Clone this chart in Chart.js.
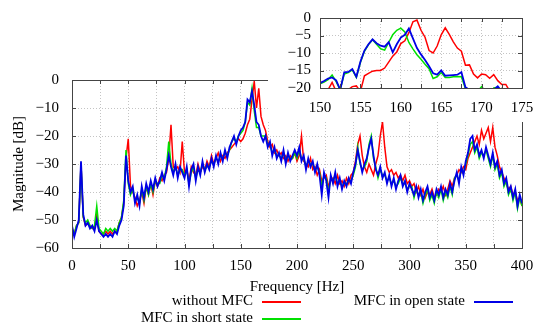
<!DOCTYPE html>
<html>
<head>
<meta charset="utf-8">
<script src="https://cdn.jsdelivr.net/npm/chart.js@4.4.0/dist/chart.umd.min.js"></script>
<style>
html, body { margin: 0; padding: 0; background: #fff; }
#wrap { position: relative; width: 550px; height: 329px; font-family: 'Liberation Serif', serif; }
#main { position: absolute; left: 0; top: 0; }
#inset { position: absolute; left: 268px; top: 0; background: #fff; }
.leg { position: absolute; font-size: 15px; line-height: 16px; color: #000; text-align: right; white-space: nowrap; }
.leg .ln { display: inline-block; width: 39px; height: 0; border-top: 2px solid; vertical-align: middle; margin-left: 9px; }
</style>
</head>
<body>
<div id="wrap">
  <canvas id="main" width="550" height="329"></canvas>
  <canvas id="inset" width="282" height="122"></canvas>
  <div class="leg" style="left:0; width:301px; top:292px;">without MFC<span class="ln" style="border-color:#ff0000"></span></div>
  <div class="leg" style="left:0; width:301px; top:309px;">MFC in short state<span class="ln" style="border-color:#00e000"></span></div>
  <div class="leg" style="left:0; width:513px; top:292px;">MFC in open state<span class="ln" style="border-color:#0000e6"></span></div>
</div>
<script>
// Frequências (Hz) - grade do gráfico principal, passo 2 Hz
var freqMain = [];
for (var f = 0; f <= 400; f += 2) freqMain.push(f);

// Magnitudes (dB)
var withoutMfc = [
  -54,-55,-52,-51,-30,-49,-52,-51,-52,-53,-53,-48,-54,-55,-55,-54,-55,-54,-55,-54,
  -54,-51,-49,-44,-28,-21,-38,-40,-42,-45,-43,-40,-44,-38,-41,-37,-41,-36,-38,-35,
  -36,-34,-33,-28,-16,-31,-32,-31,-33,-22,-33,-32,-36,-31,-33,-34,-30,-33,-31,-32,
  -29,-31,-27,-30,-28,-26,-29,-27,-28,-26,-25,-24,-23,-22,-21,-22,-21,-19,-16,-14,
  -7,-0.5,-10,-3,-13,-16,-18,-22,-24,-23,-26,-25,-27,-26,-28,-27,-29,-27,-28,-26,
  -29,-27,-20,-29,-30,-31,-28,-32,-31,-34,-32,-36,-35,-34,-38,-36,-35,-37,-34,-37,
  -36,-38,-35,-37,-34,-33,-29,-23,-20,-27,-31,-33,-30,-32,-34,-30,-27,-20,-15,-24,
  -31,-33,-32,-34,-33,-35,-34,-36,-34,-37,-36,-38,-37,-40,-38,-41,-39,-42,-40,-41,
  -39,-42,-41,-39,-40,-38,-41,-39,-36,-38,-35,-34,-32,-33,-31,-32,-28,-26,-24,-22,
  -20,-23,-18,-21,-19,-17,-22,-17,-24,-27,-31,-33,-35,-37,-39,-38,-41,-40,-43,-42,
  -45
];
var shortState = [
  -53,-55,-52,-51,-30,-49,-51,-50,-52,-53,-52,-45,-53,-54,-55,-53,-54,-53,-54,-53,
  -54,-51,-49,-43,-25,-37,-41,-39,-43,-42,-44,-39,-43,-38,-41,-37,-40,-36,-37,-37,
  -34,-35,-31,-22,-30,-33,-31,-34,-32,-32,-34,-32,-37,-33,-31,-35,-32,-33,-30,-32,
  -31,-31,-29,-30,-28,-29,-27,-28,-26,-27,-25,-22,-21,-22,-20,-19,-18,-15,-8,-9,
  -3,-11,-17,-17,-20,-20,-20,-23,-23,-26,-25,-27,-27,-28,-26,-29,-27,-28,-28,-26,
  -28,-25,-28,-28,-31,-29,-30,-30,-32,-31,-33,-38,-34,-35,-40,-35,-36,-34,-37,-36,
  -38,-37,-37,-36,-36,-34,-31,-24,-30,-32,-31,-29,-23,-20,-28,-31,-35,-32,-34,-34,
  -36,-35,-37,-36,-38,-37,-35,-37,-37,-39,-38,-38,-42,-39,-41,-40,-44,-41,-39,-43,
  -41,-44,-40,-42,-39,-43,-40,-42,-38,-41,-35,-34,-36,-32,-33,-30,-27,-23,-22,-26,
  -24,-28,-26,-27,-25,-28,-31,-27,-32,-30,-35,-33,-38,-36,-41,-39,-43,-40,-46,-42,
  -45
];
var openState = [
  -52,-56,-53,-50,-29,-48,-52,-51,-53,-52,-54,-50,-54,-55,-56,-55,-56,-55,-56,-54,
  -55,-52,-50,-45,-27,-36,-40,-38,-44,-41,-45,-38,-42,-37,-40,-36,-39,-35,-38,-36,
  -33,-36,-32,-27,-31,-34,-30,-35,-31,-33,-35,-31,-38,-32,-30,-36,-31,-34,-29,-33,
  -30,-32,-28,-31,-27,-30,-26,-29,-25,-28,-24,-22,-20,-23,-20,-18,-17,-15,-7,-8,
  -4,-9,-15,-16,-20,-22,-20,-24,-22,-27,-24,-28,-26,-29,-25,-30,-26,-29,-27,-25,
  -27,-24,-29,-27,-32,-28,-31,-29,-33,-30,-34,-41,-33,-36,-42,-34,-37,-33,-38,-35,
  -39,-36,-38,-35,-37,-33,-30,-25,-29,-33,-30,-28,-24,-21,-27,-32,-34,-31,-35,-33,
  -37,-34,-38,-35,-39,-36,-34,-38,-36,-40,-37,-39,-41,-38,-42,-39,-43,-40,-38,-42,
  -40,-43,-39,-41,-38,-42,-39,-41,-37,-40,-36,-33,-37,-31,-34,-29,-26,-21,-20,-25,
  -23,-27,-25,-28,-24,-27,-30,-26,-31,-29,-34,-32,-37,-35,-40,-38,-42,-39,-45,-41,
  -44
];

// Detalhe 150-175 Hz, passo 0.5 Hz
var freqInset = [];
for (var g = 150; g <= 175; g += 0.5) freqInset.push(g);

var insetWithout = [
  -22,-21.5,-20.5,-18.4,-21,-22,-21.5,-20.5,-19.6,-19.4,-21,-16.5,-15.8,-15.2,-15,-15,
  -14.3,-12.6,-10.9,-9.7,-7.3,-6.5,-4.2,-1.1,-0.6,-3.5,-5.5,-9.3,-10,-8,-4.8,-2.8,
  -4.7,-6.8,-8.6,-9.5,-13.5,-13.4,-16,-17.1,-16,-16.2,-17.2,-16.2,-17.9,-19,-19,-21,
  -22,-23,-24
];
var insetShort = [
  -18.8,-18.3,-17.6,-16.3,-18.2,-20.5,-16,-15.6,-14.8,-17,-12.7,-9.5,-7.6,-6.2,-7.5,-8.8,
  -9.2,-7,-4.8,-3.5,-2.9,-4,-7,-8.8,-10.5,-11.8,-13.2,-14.5,-17.3,-16.8,-15.6,-17,
  -17,-16.8,-16.7,-16.8,-20.2,-21,-21.5,-21,-19.6,-21,-22,-20,-19.8,-21.5,-22,-23,
  -23,-24,-24
];
var insetOpen = [
  -18.6,-18,-17.3,-17,-17.8,-20.5,-15.5,-15.4,-14.6,-16.8,-12.5,-9.3,-7.5,-6.1,-7.2,-7.9,
  -8.2,-6.9,-9.8,-7.5,-5.6,-4.8,-3,-5.8,-8.6,-10.4,-12,-13.8,-15.8,-16.2,-15,-16.5,
  -16.4,-16.3,-16.2,-15.5,-19.8,-20.5,-21,-22,-21,-20.8,-22,-20.5,-19.5,-21,-23,-23,
  -24,-24,-24
];

var fonte = { family: "'Liberation Serif', serif", size: 15 };

function pontos(xs, ys) {
  return xs.map(function (x, i) { return { x: x, y: ys[i] }; });
}

function serie(label, xs, ys, cor, largura, ordem) {
  return {
    label: label,
    data: pontos(xs, ys),
    borderColor: cor,
    borderWidth: largura,
    pointRadius: 0,
    tension: 0,
    fill: false,
    order: ordem
  };
}

// sinal de menos tipográfico nos rótulos
function menos(v) { return String(v).replace('-', '\u2212'); }

// Moldura com marcas de escala para dentro (estilo gnuplot)
var moldura = {
  id: 'moldura',
  afterDraw: function (chart) {
    var ctx = chart.ctx, a = chart.chartArea;
    var sx = chart.scales.x, sy = chart.scales.y;
    ctx.save();
    ctx.strokeStyle = '#444';
    ctx.lineWidth = 1;
    ctx.beginPath();
    sx.ticks.forEach(function (t) {
      var px = Math.round(sx.getPixelForValue(t.value)) + 0.5;
      ctx.moveTo(px, a.bottom); ctx.lineTo(px, a.bottom - 4);
      ctx.moveTo(px, a.top); ctx.lineTo(px, a.top + 4);
    });
    sy.ticks.forEach(function (t) {
      var py = Math.round(sy.getPixelForValue(t.value)) + 0.5;
      ctx.moveTo(a.left, py); ctx.lineTo(a.left + 4, py);
      ctx.moveTo(a.right, py); ctx.lineTo(a.right - 4, py);
    });
    ctx.stroke();
    ctx.strokeRect(Math.round(a.left) + 0.5, Math.round(a.top) + 0.5,
      Math.round(a.right - a.left), Math.round(a.bottom - a.top));
    ctx.restore();
  }
};

var grade = { color: '#c4c4c4', drawTicks: false };
var borda = { display: false, dash: [1, 2] };

// Gráfico principal
var ctxMain = document.getElementById('main').getContext('2d');
var chartMain = new Chart(ctxMain, {
  type: 'line',
  data: {
    datasets: [
      serie('without MFC', freqMain, withoutMfc, '#ff0000', 1.5, 2),
      serie('MFC in short state', freqMain, shortState, '#00e000', 1.5, 1),
      serie('MFC in open state', freqMain, openState, '#0000e6', 1.8, 0)
    ]
  },
  options: {
    responsive: false,
    animation: false,
    layout: { padding: { left: 0, right: 28, top: 80, bottom: 0 } },
    plugins: { legend: { display: false }, tooltip: { enabled: false } },
    scales: {
      x: {
        type: 'linear', min: 0, max: 400,
        grid: grade, border: borda,
        ticks: {
          stepSize: 25, autoSkip: false, maxRotation: 0, padding: 9,
          color: '#000', font: fonte,
          callback: function (v) { return v % 50 === 0 ? v : ''; }
        },
        title: { display: true, text: 'Frequency [Hz]', color: '#000', font: fonte, padding: { top: 0, bottom: 33 } },
        afterFit: function (s) { s.height = 81; }
      },
      y: {
        min: -60, max: 0,
        grid: grade, border: borda,
        ticks: { stepSize: 10, autoSkip: false, padding: 13, color: '#000', font: fonte, callback: menos },
        title: { display: true, text: 'Magnitude [dB]', color: '#000', font: fonte, padding: { top: 10, bottom: 0 } },
        afterFit: function (s) { s.width = 72; }
      }
    }
  },
  plugins: [moldura]
});

// Detalhe (zoom) em 150-175 Hz
var ctxInset = document.getElementById('inset').getContext('2d');
var chartInset = new Chart(ctxInset, {
  type: 'line',
  data: {
    datasets: [
      serie('without MFC', freqInset, insetWithout, '#ff0000', 1.5, 2),
      serie('MFC in short state', freqInset, insetShort, '#00e000', 1.5, 1),
      serie('MFC in open state', freqInset, insetOpen, '#0000e6', 1.8, 0)
    ]
  },
  options: {
    responsive: false,
    animation: false,
    layout: { padding: { left: 0, right: 28, top: 14, bottom: 0 } },
    plugins: { legend: { display: false }, tooltip: { enabled: false } },
    scales: {
      x: {
        type: 'linear', min: 150, max: 175,
        grid: grade, border: borda,
        ticks: {
          stepSize: 2.5, autoSkip: false, maxRotation: 0, padding: 11,
          color: '#000', font: fonte,
          callback: function (v) { return v % 5 === 0 ? v : ''; }
        },
        afterFit: function (s) { s.height = 34; }
      },
      y: {
        min: -20, max: 0,
        grid: grade, border: borda,
        ticks: { stepSize: 5, autoSkip: false, padding: 9, color: '#000', font: fonte, callback: menos },
        afterFit: function (s) { s.width = 52; }
      }
    }
  },
  plugins: [moldura]
});
</script>
</body>
</html>
